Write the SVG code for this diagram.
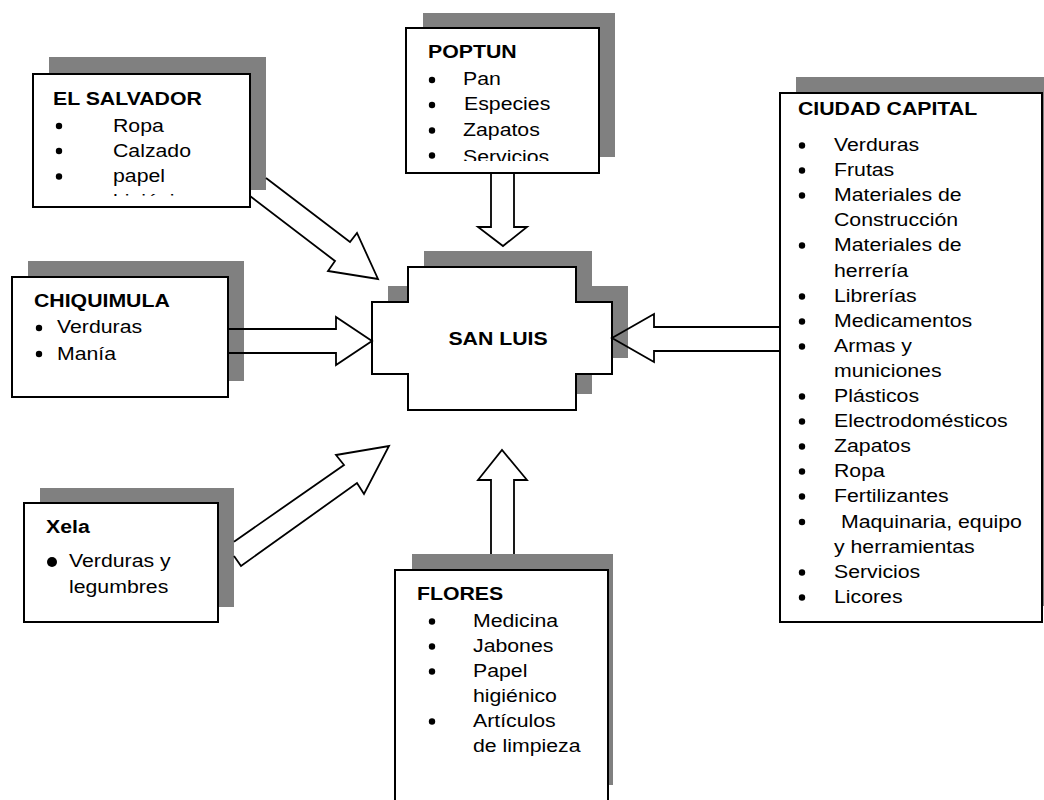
<svg xmlns="http://www.w3.org/2000/svg" width="1044" height="800" viewBox="0 0 1044 800">
<style>
.sh{fill:#808080}
.bx{fill:#fff;stroke:#000;stroke-width:2}
.ar{fill:none;stroke:#000;stroke-width:1.8;stroke-linejoin:miter}
.t{font-family:"Liberation Sans",Arial,sans-serif;font-size:18.5px;fill:#000}
.b{font-weight:bold}
.d{fill:#000}
</style>
<defs>
<clipPath id="clipES"><rect x="33" y="74" width="217" height="122"/></clipPath>
<clipPath id="clipPO"><rect x="406" y="28" width="193" height="133"/></clipPath>
</defs>
<rect width="1044" height="800" fill="#fff"/>

<g id="el-salvador">
<rect class="sh" x="49" y="57" width="217" height="133"/>
<rect class="bx" x="33" y="74" width="217" height="133"/>
<text class="t b" transform="translate(53,105) scale(1.15,1)">EL SALVADOR</text>
<circle class="d" cx="59" cy="126" r="3.2"/>
<circle class="d" cx="59" cy="151" r="3.2"/>
<circle class="d" cx="59" cy="176.5" r="3.2"/>
<text class="t" transform="translate(113,132) scale(1.15,1)">Ropa</text>
<text class="t" transform="translate(113,157) scale(1.15,1)">Calzado</text>
<text class="t" transform="translate(113,182) scale(1.15,1)">papel</text>
<g clip-path="url(#clipES)"><text class="t" transform="translate(113,207) scale(1.15,1)">higiénico</text></g>
</g>

<g id="poptun">
<rect class="sh" x="423" y="13" width="192" height="144"/>
<rect class="bx" x="406" y="28" width="193" height="145"/>
<text class="t b" transform="translate(428,58) scale(1.15,1)">POPTUN</text>
<circle class="d" cx="432" cy="80" r="3.2"/>
<circle class="d" cx="432" cy="105" r="3.2"/>
<circle class="d" cx="432" cy="130.5" r="3.2"/>
<circle class="d" cx="432" cy="155.5" r="3.2"/>
<text class="t" transform="translate(463,85) scale(1.15,1)">Pan</text>
<text class="t" transform="translate(464,110) scale(1.15,1)">Especies</text>
<text class="t" transform="translate(463,136) scale(1.15,1)">Zapatos</text>
<g clip-path="url(#clipPO)"><text class="t" transform="translate(463,163) scale(1.15,1)">Servicios</text></g>
</g>

<g id="chiquimula">
<rect class="sh" x="28" y="261" width="216" height="120"/>
<rect class="bx" x="12" y="277" width="216" height="120"/>
<text class="t b" transform="translate(34,307) scale(1.15,1)">CHIQUIMULA</text>
<circle class="d" cx="39" cy="328" r="3.2"/>
<circle class="d" cx="39" cy="354" r="3.2"/>
<text class="t" transform="translate(57,333) scale(1.15,1)">Verduras</text>
<text class="t" transform="translate(57,360) scale(1.15,1)">Manía</text>
</g>

<g id="xela">
<rect class="sh" x="40" y="488" width="194" height="119"/>
<rect class="bx" x="24" y="503" width="194" height="119"/>
<text class="t b" transform="translate(46,533) scale(1.15,1)">Xela</text>
<circle class="d" cx="52" cy="562" r="5"/>
<text class="t" transform="translate(69,567) scale(1.15,1)">Verduras y</text>
<text class="t" transform="translate(69,593) scale(1.15,1)">legumbres</text>
</g>

<g id="flores">
<rect class="sh" x="412" y="554" width="201" height="231"/>
<rect class="bx" x="395" y="570" width="213" height="232"/>
<text class="t b" transform="translate(417,600) scale(1.15,1)">FLORES</text>
<circle class="d" cx="432" cy="621.5" r="3.2"/>
<circle class="d" cx="432" cy="646.5" r="3.2"/>
<circle class="d" cx="432" cy="671.5" r="3.2"/>
<circle class="d" cx="432" cy="721.5" r="3.2"/>
<text class="t" transform="translate(473,627) scale(1.15,1)">Medicina</text>
<text class="t" transform="translate(473,652) scale(1.15,1)">Jabones</text>
<text class="t" transform="translate(473,677) scale(1.15,1)">Papel</text>
<text class="t" transform="translate(473,702) scale(1.15,1)">higiénico</text>
<text class="t" transform="translate(473,727) scale(1.15,1)">Artículos</text>
<text class="t" transform="translate(473,752) scale(1.15,1)">de limpieza</text>
</g>

<g id="ciudad-capital">
<rect class="sh" x="796" y="77" width="262" height="529"/>
<rect class="bx" x="780" y="93" width="262" height="529"/>
<text class="t b" transform="translate(798,115) scale(1.15,1)">CIUDAD CAPITAL</text>
<g>
<circle class="d" cx="802" cy="145.5" r="3.2"/>
<circle class="d" cx="802" cy="170.5" r="3.2"/>
<circle class="d" cx="802" cy="195.5" r="3.2"/>
<circle class="d" cx="802" cy="245.5" r="3.2"/>
<circle class="d" cx="802" cy="296.5" r="3.2"/>
<circle class="d" cx="802" cy="321.5" r="3.2"/>
<circle class="d" cx="802" cy="346.5" r="3.2"/>
<circle class="d" cx="802" cy="396.5" r="3.2"/>
<circle class="d" cx="802" cy="421.5" r="3.2"/>
<circle class="d" cx="802" cy="446.5" r="3.2"/>
<circle class="d" cx="802" cy="471.5" r="3.2"/>
<circle class="d" cx="802" cy="496.5" r="3.2"/>
<circle class="d" cx="802" cy="522" r="3.2"/>
<circle class="d" cx="802" cy="572.5" r="3.2"/>
<circle class="d" cx="802" cy="597.5" r="3.2"/>
</g>
<text class="t" transform="translate(834,151) scale(1.15,1)">Verduras</text>
<text class="t" transform="translate(834,176) scale(1.15,1)">Frutas</text>
<text class="t" transform="translate(834,201) scale(1.15,1)">Materiales de</text>
<text class="t" transform="translate(834,226) scale(1.15,1)">Construcción</text>
<text class="t" transform="translate(834,251) scale(1.15,1)">Materiales de</text>
<text class="t" transform="translate(834,276.5) scale(1.15,1)">herrería</text>
<text class="t" transform="translate(834,302) scale(1.15,1)">Librerías</text>
<text class="t" transform="translate(834,327) scale(1.15,1)">Medicamentos</text>
<text class="t" transform="translate(834,352) scale(1.15,1)">Armas y</text>
<text class="t" transform="translate(834,377) scale(1.15,1)">municiones</text>
<text class="t" transform="translate(834,402) scale(1.15,1)">Plásticos</text>
<text class="t" transform="translate(834,427) scale(1.15,1)">Electrodomésticos</text>
<text class="t" transform="translate(834,452) scale(1.15,1)">Zapatos</text>
<text class="t" transform="translate(834,477) scale(1.15,1)">Ropa</text>
<text class="t" transform="translate(834,502) scale(1.15,1)">Fertilizantes</text>
<text class="t" transform="translate(841,527.5) scale(1.15,1)">Maquinaria, equipo</text>
<text class="t" transform="translate(834,553) scale(1.15,1)">y herramientas</text>
<text class="t" transform="translate(834,578) scale(1.15,1)">Servicios</text>
<text class="t" transform="translate(834,603) scale(1.15,1)">Licores</text>
</g>

<g id="san-luis">
<path class="sh" d="M424,251 H592 V286 H628 V358 H592 V394 H424 V358 H388 V286 H424 Z"/>
<path class="bx" d="M408,267 H576 V302 H612 V374 H576 V410 H408 V374 H372 V302 H408 Z"/>
<text class="t b" text-anchor="middle" transform="translate(498,345) scale(1.15,1)">SAN LUIS</text>
</g>

<g id="connectors">
<path class="ar" d="M266,178 L350,242 L357,233 L378,279 L328,271 L335,261 L250,196"/>
<path class="ar" d="M491,173 L491,227 L478,227 L503,246 L527,227 L514,227 L514,173"/>
<path class="ar" d="M228,329 L336,329 L336,317 L372,341 L336,365 L336,353 L228,353"/>
<path class="ar" d="M780,327 L654,327 L654,314 L612,338 L654,362 L654,351 L780,351"/>
<path class="ar" d="M234,541.7 L344,465 L336,455 L389,446 L364,494 L357,483 L241,566 L234,556"/>
<path class="ar" d="M491,554 L491,480 L478,480 L502,450 L527,480 L514,480 L514,554"/>
</g>
</svg>
